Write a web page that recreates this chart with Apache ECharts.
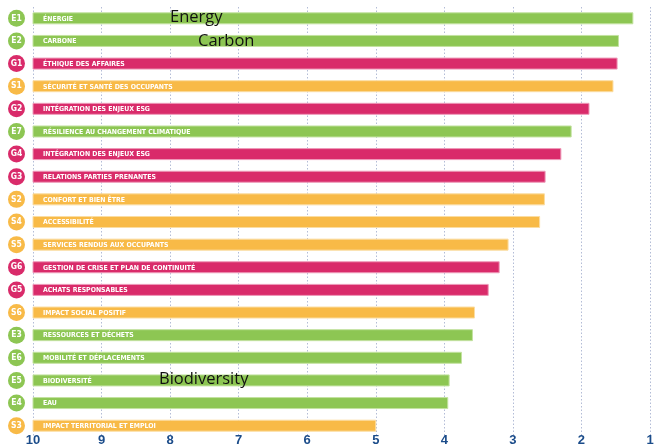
<!DOCTYPE html>
<html><head><meta charset="utf-8">
<script src="https://cdn.jsdelivr.net/npm/echarts@6/dist/echarts.min.js"></script>
<style>html,body{margin:0;padding:0;background:#fff}#c{width:654px;height:444px}</style>
</head><body><div id="c"></div>
<script>
// ---- data ----
const codes = ['E1','E2','G1','S1','G2','E7','G4','G3','S2','S4','S5','G6','G5','S6','E3','E6','E5','E4','S3'];
const names = ['ÉNERGIE','CARBONE','ÉTHIQUE DES AFFAIRES','SÉCURITÉ ET SANTÉ DES OCCUPANTS','INTÉGRATION DES ENJEUX ESG','RÉSILIENCE AU CHANGEMENT CLIMATIQUE','INTÉGRATION DES ENJEUX ESG','RELATIONS PARTIES PRENANTES','CONFORT ET BIEN ÊTRE','ACCESSIBILITÉ','SERVICES RENDUS AUX OCCUPANTS','GESTION DE CRISE ET PLAN DE CONTINUITÉ','ACHATS RESPONSABLES','IMPACT SOCIAL POSITIF','RESSOURCES ET DÉCHETS','MOBILITÉ ET DÉPLACEMENTS','BIODIVERSITÉ','EAU','IMPACT TERRITORIAL ET EMPLOI'];
const scores = [1.25,1.46,1.48,1.54,1.89,2.15,2.30,2.53,2.54,2.61,3.07,3.20,3.36,3.56,3.59,3.75,3.93,3.95,5.00];
const tickLabels = [10,9,8,7,6,5,4,3,2,1];
const annotationTexts = ['Energy','Carbon','Biodiversity'];

// ---- styles ----
const groupColor = {E:'#8DC653', S:'#F8BA47', G:'#D92B6A'};
const groupStroke = {E:'#C3E2A0', S:'#FBDDA2', G:'#EE9AB9'};
const axisMin = Math.min(...tickLabels), axisMax = Math.max(...tickLabels);
const condensed = '"Liberation Sans Narrow","DejaVu Sans Condensed",sans-serif';

const chart = echarts.init(document.getElementById('c'), null, {renderer:'canvas'});
const rich = {};
Object.keys(groupColor).forEach(k => {
  rich[k] = {backgroundColor: groupColor[k], borderRadius: 8.5, width: 17, height: 17, lineHeight: 17,
    align: 'center', verticalAlign: 'middle', color: '#fff', fontWeight: 'bold', fontSize: 8.5,
    fontFamily: condensed};
});

chart.setOption({
  animation: false,
  backgroundColor: '#fff',
  grid: {left: 33, right: 4, top: 7, bottom: 7, containLabel: false, outerBoundsMode: 'none'},
  xAxis: {
    type: 'value', min: axisMin, max: axisMax, interval: 1, inverse: true,
    axisLine: {show: false}, axisTick: {show: false},
    axisLabel: {margin: -3, color: '#1B4C8A', fontWeight: 'bold', fontSize: 13,
      fontFamily: '"Liberation Sans","Arial",sans-serif'},
    splitLine: {show: true, lineStyle: {type: [1.5, 2], color: '#B3BCD6', width: 1}}
  },
  yAxis: {
    type: 'category', data: codes, inverse: true,
    axisLine: {show: false}, axisTick: {show: false}, splitLine: {show: false},
    axisLabel: {margin: 8, formatter: v => '{' + v[0] + '|' + v + '}', rich: rich}
  },
  series: [{
    type: 'custom',
    encode: {x: 1, y: 0},
    data: scores.map((s, i) => [i, s]),
    renderItem: function (params, api) {
      const idx = api.value(0);
      const v = api.value(1);
      const g = codes[idx][0];
      const a = api.coord([axisMax, idx]);
      const b = api.coord([v, idx]);
      const h = 11;
      return {
        type: 'group',
        children: [
          {type: 'rect', shape: {x: a[0], y: a[1] - h / 2, width: b[0] - a[0], height: h},
            style: {fill: groupColor[g], stroke: groupStroke[g], lineWidth: 1}},
          {type: 'text', x: a[0] + 10, y: a[1] + 0.5,
            style: {text: names[idx], fill: '#fff', fontSize: 6.9, fontWeight: 'bold',
              fontFamily: condensed, align: 'left', verticalAlign: 'middle'}}
        ]
      };
    }
  }],
  graphic: [
    {type: 'text', left: 170, top: 8.5, z: 100, style: {text: annotationTexts[0], fill: '#111', fontSize: 16.5, fontFamily: '"Open Sans",sans-serif'}},
    {type: 'text', left: 198, top: 32.5, z: 100, style: {text: annotationTexts[1], fill: '#111', fontSize: 16.5, fontFamily: '"Open Sans",sans-serif'}},
    {type: 'text', left: 159, top: 370.5, z: 100, style: {text: annotationTexts[2], fill: '#111', fontSize: 16.5, fontFamily: '"Open Sans",sans-serif'}}
  ]
});
</script></body></html>
